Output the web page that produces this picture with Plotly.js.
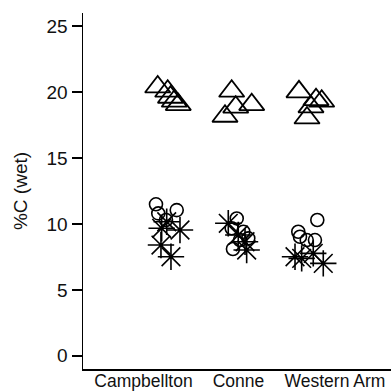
<!DOCTYPE html>
<html>
<head>
<meta charset="utf-8">
<script src="https://cdn.plot.ly/plotly-3.0.1.min.js"></script>
<style>html,body{margin:0;padding:0;background:#fff;}#chart{width:391px;height:391px;}</style>
</head>
<body>
<div id="chart"></div>
<script>
// Sites (categories)
const sites = ["Campbellton", "Conne", "Western Arm"];

// Triangles
const triSite   = [1, 1, 1, 1, 1, 2, 2, 2, 2, 3, 3, 3, 3, 3];
const triJitter = [-0.145, -0.004, 0.035, 0.089, 0.145, -0.103, -0.197, -0.046, 0.179, -0.155, 0.085, 0.165, -0.042, 0.014];
const triC      = [20.39, 20.07, 19.61, 19.31, 19.05, 20.07, 18.17, 18.86, 19.05, 20.02, 19.43, 19.31, 18.04, 18.88];

// Circles
const cirSite   = [1, 1, 1, 1, 2, 2, 2, 2, 2, 2, 3, 3, 3, 3, 3];
const cirJitter = [-0.169, -0.137, 0.123, -0.028, -0.032, -0.103, 0.061, 0.131, -0.085, 0.014, 0.103, -0.165, -0.141, -0.046, 0.070];
const cirC      = [11.49, 10.8, 11.05, 10.3, 10.42, 9.67, 9.41, 8.91, 8.1, 8.78, 10.3, 9.41, 9.03, 8.78, 8.78];

// Asterisks
const astSite   = [1, 1, 1, 1, 1, 2, 2, 2, 2, 3, 3, 3, 3];
const astJitter = [-0.089, 0.169, -0.099, 0.042, -0.018, -0.151, -0.010, 0.085, 0.108, -0.117, 0.187, 0.046, -0.211];
const astC      = [9.67, 9.54, 8.4, 7.51, 10.17, 10.05, 9.16, 8.65, 8.02, 7.39, 7.01, 7.77, 7.51];

// Y ticks
const yTicks = [0, 5, 10, 15, 20, 25];

const labelPos = [0.655, 1.993, 3.352];

function xs(site, jit) { return site.map((s, i) => s + jit[i]); }

const fam = "Liberation Sans, Arial, sans-serif";
const yFont = {family: fam, size: 19, color: "#111"};
const xFont = {family: fam, size: 17.5, color: "#111"};

const traces = [
  {x: xs(triSite, triJitter), y: triC, type: "scatter", mode: "markers",
   marker: {symbol: "triangle-up-open", size: 22, color: "#000", line: {color: "#000", width: 1.8}}, hoverinfo: "none"},
  {x: xs(cirSite, cirJitter), y: cirC, type: "scatter", mode: "markers",
   marker: {symbol: "circle-open", size: 13, color: "#000", line: {color: "#000", width: 1.6}}, hoverinfo: "none"},
  {x: xs(astSite, astJitter), y: astC, type: "scatter", mode: "markers",
   marker: {symbol: "asterisk-open", size: 22, color: "#000", line: {color: "#000", width: 1.6}}, hoverinfo: "none"}
];

const layout = {
  width: 391, height: 391,
  margin: {l: 83, r: 0, t: 13, b: 22, pad: 0},
  paper_bgcolor: "#fff", plot_bgcolor: "#fff",
  showlegend: false,
  font: yFont,
  xaxis: {
    range: [-0.197, 4.141], showgrid: false, zeroline: false,
    showline: true, linecolor: "#000", linewidth: 1.5,
    tickmode: "array", tickvals: labelPos, ticktext: sites, ticks: "",
    ticklabelstandoff: -5,
    tickfont: xFont, automargin: false, fixedrange: true
  },
  yaxis: {
    range: [-1, 26], showgrid: false, zeroline: false,
    showline: true, linecolor: "#000", linewidth: 1.5,
    tickmode: "array", tickvals: yTicks, ticktext: yTicks.map(String),
    ticks: "outside", ticklen: 10, tickwidth: 1.5, tickcolor: "#000",
    tickfont: yFont, automargin: false, fixedrange: true,
    title: {text: "%C (wet)", font: yFont, standoff: 14}
  }
};

Plotly.newPlot("chart", traces, layout, {displayModeBar: false, staticPlot: true});
</script>
</body>
</html>
